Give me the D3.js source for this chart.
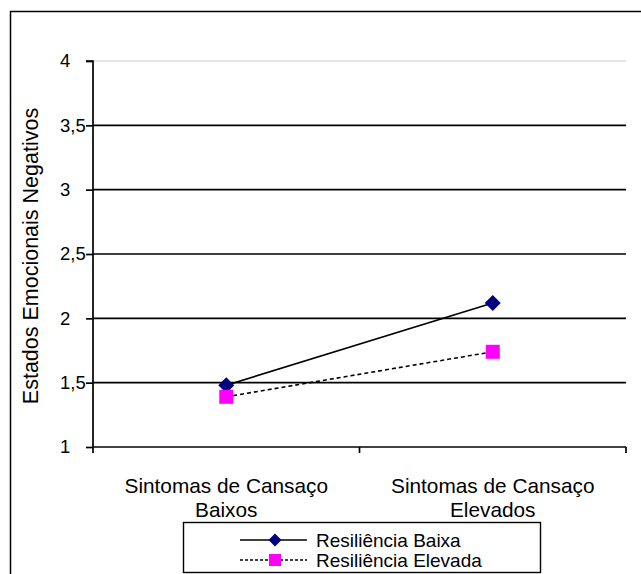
<!DOCTYPE html>
<html><head><meta charset="utf-8">
<script src="https://cdn.jsdelivr.net/npm/d3@7"></script>
<style>body{margin:0;background:#fff}svg{display:block}text{font-family:"Liberation Sans",Arial,sans-serif;fill:#000}</style>
</head><body>
<svg id="c" width="641" height="574"></svg>
<script>
const categories = [["Sintomas de Cansaço","Baixos"],["Sintomas de Cansaço","Elevados"]];
const categoryKeys = ["baixos","elevados"];
const seriesNames = ["Resiliência Baixa","Resiliência Elevada"];
const resilienciaBaixa = [1.48, 2.12];
const resilienciaElevada = [1.39, 1.74];
const yTicks = [1, 1.5, 2, 2.5, 3, 3.5, 4];
const yTitle = "Estados Emocionais Negativos";

const svg = d3.select("#c");
const L = 93, R = 626, T = 61, B = 447;
const x = d3.scalePoint().domain(categoryKeys).range([L, R]).padding(0.5);
const y = d3.scaleLinear().domain([1, 4]).range([B, T]);

// outer frame
svg.append("path").attr("d","M10.5,580 V11.5 H650").attr("fill","none").attr("stroke","#000").attr("stroke-width",1.5);

// gridlines
svg.append("g").selectAll("line").data(yTicks.slice(1)).join("line")
  .attr("x1", L).attr("x2", R).attr("y1", d => y(d)).attr("y2", d => y(d))
  .attr("stroke", d => d === 4 ? "#c8c8c8" : "#000").attr("stroke-width", d => d === 4 ? 1.2 : 1.7);

// y axis
const ya = svg.append("g").attr("transform", `translate(${L},0)`)
  .call(d3.axisLeft(y).tickValues(yTicks).tickSize(7).tickPadding(10)
    .tickFormat(d => String(d).replace(".", ",")));
ya.select(".domain").attr("stroke","#000").attr("stroke-width",1.7).attr("d", `M-7,${T}H0V${B}`);
ya.selectAll(".tick line").attr("stroke","#000").attr("stroke-width",1.7);
ya.selectAll(".tick text").attr("font-size", 18.5).attr("font-family","Liberation Sans, Arial, sans-serif")
  .attr("fill","#000").attr("text-anchor","start").attr("x", 60 - L);

// x axis
const xa = svg.append("g").attr("transform", `translate(0,${B})`);
xa.append("line").attr("x1", L).attr("x2", R).attr("stroke","#000").attr("stroke-width",1.7);
const bounds = [L, (L + R) / 2, R];
xa.selectAll("line.t").data(bounds).join("line").attr("class","t")
  .attr("x1", d => d).attr("x2", d => d).attr("y1", 0).attr("y2", 6)
  .attr("stroke","#000").attr("stroke-width",1.7);
const catG = svg.append("g").selectAll("text").data(categoryKeys).join("text")
  .attr("text-anchor","middle").attr("font-size", 20.8);
catG.each(function(k, i){
  const t = d3.select(this);
  categories[i].forEach((ln, j) => t.append("tspan").attr("x", x(k)).attr("y", 493 + j * 24).text(ln));
});

// y title
svg.append("text").attr("transform", "translate(38,256) rotate(-90)")
  .attr("text-anchor","middle").attr("font-size", 21.5).text(yTitle);

// series
const series = [
  {name: seriesNames[0], values: resilienciaBaixa, dash: null, shape: "diamond", color: "#000080"},
  {name: seriesNames[1], values: resilienciaElevada, dash: "4,3", shape: "square", color: "#ff00ff"}
];
const line = d3.line().x((d, i) => x(categoryKeys[i])).y(d => y(d));
function marker(g, shape, color, cx, cy){
  if (shape === "diamond") {
    g.append("path").attr("d", `M${cx},${cy-8}L${cx+8},${cy}L${cx},${cy+8}L${cx-8},${cy}Z`).attr("fill", color);
  } else {
    g.append("rect").attr("x", cx-7).attr("y", cy-7).attr("width",14).attr("height",14).attr("fill", color);
  }
}
series.forEach(s => {
  svg.append("path").datum(s.values).attr("d", line).attr("fill","none")
    .attr("stroke","#000").attr("stroke-width",1.6).attr("stroke-dasharray", s.dash);
});
series.forEach(s => {
  const g = svg.append("g");
  s.values.forEach((v, i) => marker(g, s.shape, s.color, x(categoryKeys[i]), y(v)));
});

// legend
const lg = svg.append("g");
lg.append("rect").attr("x",183.5).attr("y",522.5).attr("width",357).attr("height",50)
  .attr("fill","#fff").attr("stroke","#000").attr("stroke-width",1.4);
series.forEach((s, i) => {
  const yy = 540 + i * 20;
  lg.append("line").attr("x1",240).attr("x2",307).attr("y1",yy).attr("y2",yy)
    .attr("stroke","#000").attr("stroke-width",1.3).attr("stroke-dasharray", s.dash ? "3,2" : null);
  const mg = lg.append("g");
  if (s.shape === "diamond") {
    mg.append("path").attr("d", `M275,${yy-6.5}L281.5,${yy}L275,${yy+6.5}L268.5,${yy}Z`).attr("fill", s.color);
  } else {
    mg.append("rect").attr("x",269).attr("y",yy-6).attr("width",12).attr("height",12).attr("fill", s.color);
  }
  lg.append("text").attr("x",316).attr("y",yy+7).attr("font-size",19).text(s.name);
});
</script>
</body></html>
